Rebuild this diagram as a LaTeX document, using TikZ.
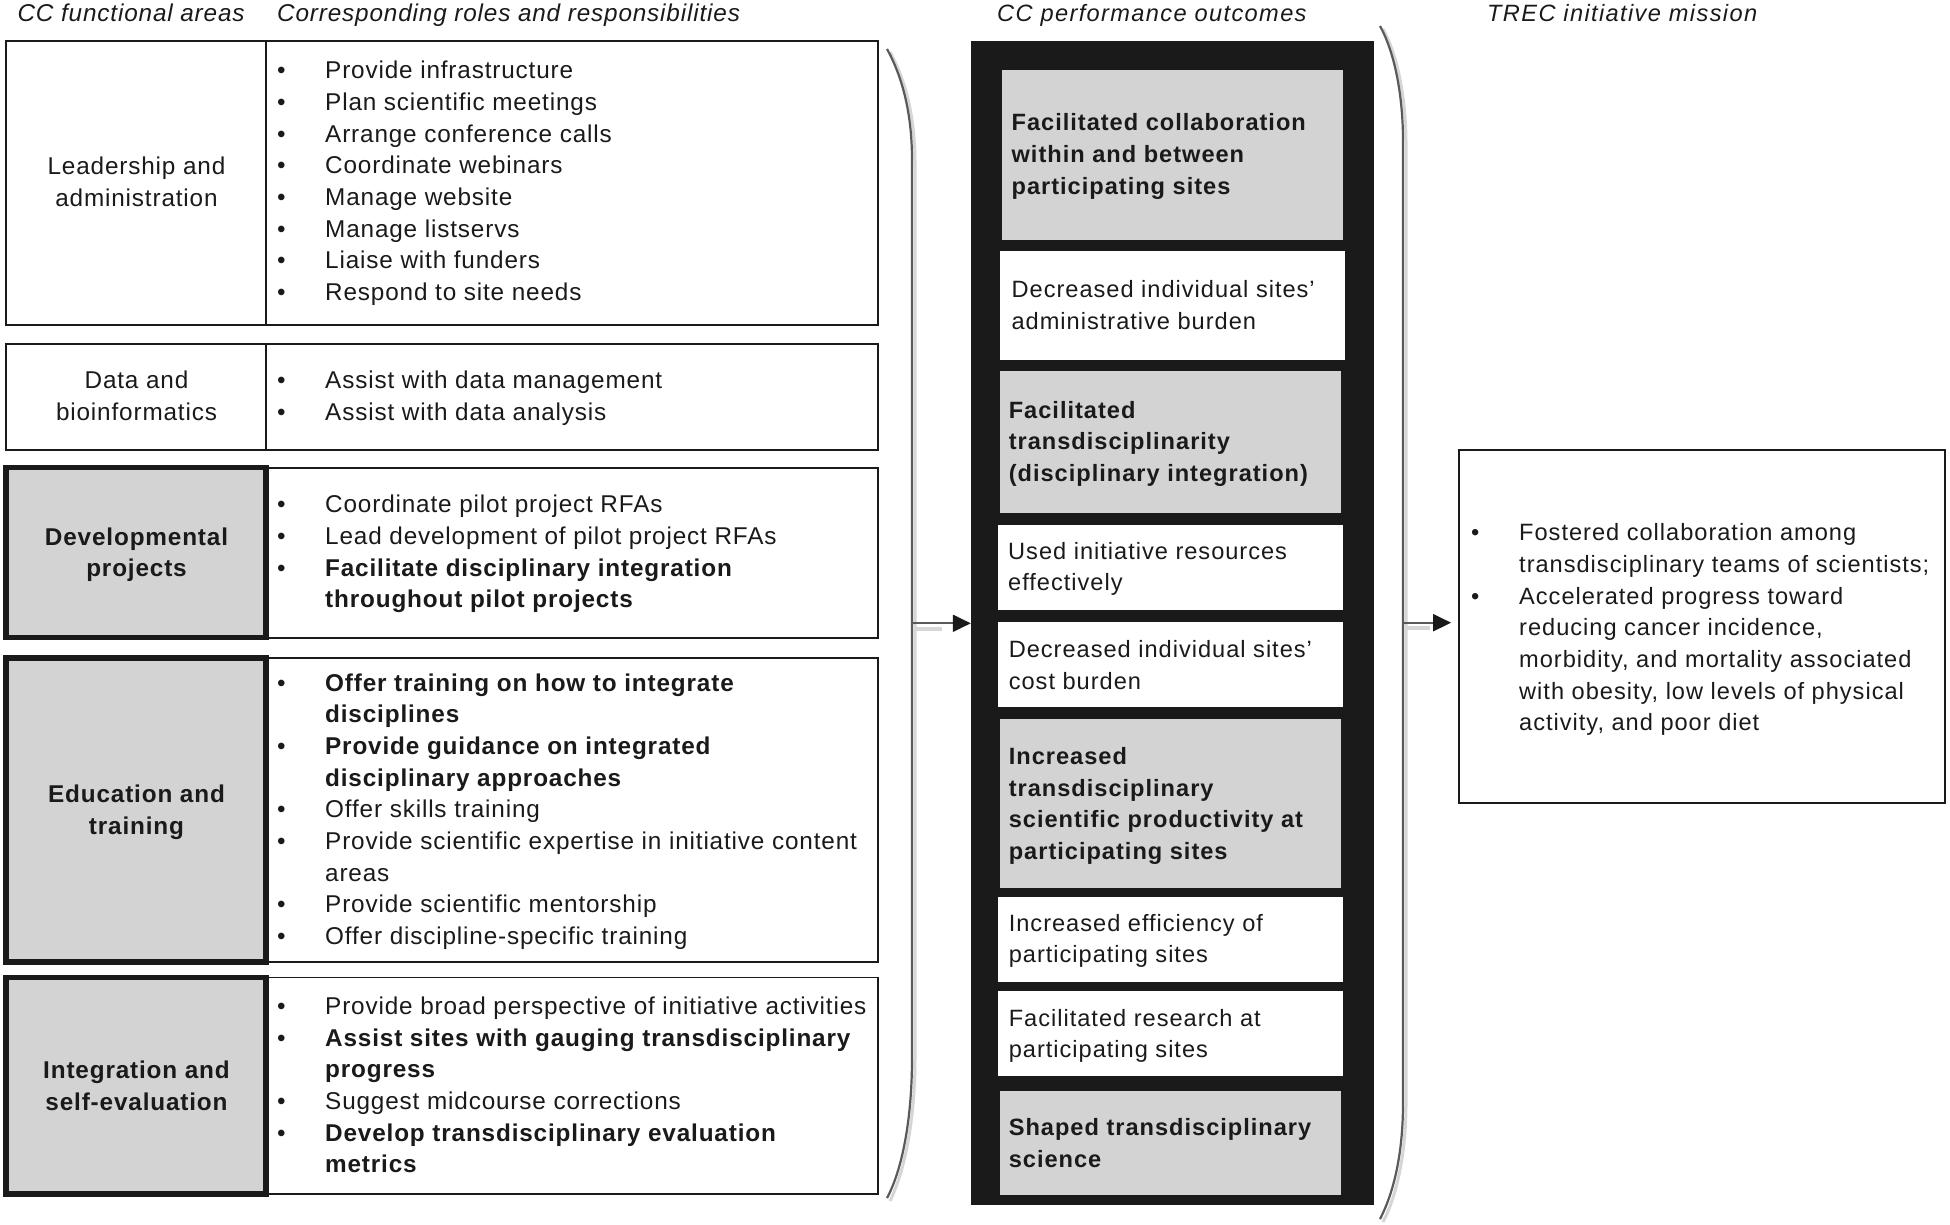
\documentclass[tikz,border=0pt]{standalone}
\usepackage{fontspec}
\setmainfont{Liberation Sans}
\newfontfamily\lfam{Liberation Sans}[LetterSpace=3.5]
\newfontfamily\mfam{Liberation Sans}[LetterSpace=4.2]
\newfontfamily\hfam{Liberation Sans}[LetterSpace=5.8]
\usetikzlibrary{arrows.meta}
\definecolor{cellgray}{HTML}{D3D3D3}
\definecolor{ink}{HTML}{1A1A1A}
\definecolor{brk}{HTML}{5A5A5A}
\definecolor{shd}{HTML}{D6D6D6}
\newcommand\bu{\makebox[48pt][l]{•}}
\newcommand\ind{\hspace*{48pt}}
\tikzset{
  ltext/.style={inner sep=0pt, anchor=north west, align=left, text=ink, font=\lfam\fontsize{24.3}{31.7}\selectfont},
  lbl/.style={inner sep=0pt, anchor=north, align=center, text=ink, font=\lfam\fontsize{24.3}{31.7}\selectfont},
  lblb/.style={lbl, font=\lfam\bfseries\fontsize{24.3}{31.7}\selectfont},
  mtext/.style={inner sep=0pt, anchor=north west, align=left, text=ink, font=\mfam\fontsize{23.6}{31.7}\selectfont},
  head/.style={inner sep=0pt, anchor=base west, text=ink, font=\lfam\itshape\fontsize{24.3}{31.7}\selectfont},
  mhead/.style={inner sep=0pt, anchor=base west, text=ink, font=\hfam\itshape\fontsize{23.6}{31.7}\selectfont},
  cellline/.style={draw=ink, line width=1.8pt},
  graycell/.style={draw=ink, fill=cellgray, line width=5.5pt},
  bracket/.style={draw=brk, line width=2.2pt},
  shadow/.style={draw=shd, line width=3pt},
  arr/.style={draw=brk, line width=2pt, -{Triangle[length=18pt,width=17pt,color=ink]}},
}
\begin{document}
\begin{tikzpicture}[x=1pt,y=-1pt]
\useasboundingbox[fill=white] (0,0) rectangle (1950,1224);

% headers
\node[head] (h1) at (17.4,21.5) {CC functional areas};
\node[head] (h2) at (277,21.5) {Corresponding roles and responsibilities};
\node[mhead] (h3) at (997,21.5) {CC performance outcomes};
\node[mhead] (h4) at (1487,21.5) {TREC initiative mission};

% ---------- left column rows ----------
% Leadership
\draw[cellline] (6,41) rectangle (878,325);
\draw[cellline] (266,41) -- (266,325);
\node[lbl] (leadL) at (136.5,152.3) {\strut Leadership and\\administration};
\node[ltext] (leadR) at (277,56.3) {\strut\bu Provide infrastructure\\
\bu Plan scientific meetings\\
\bu Arrange conference calls\\
\bu Coordinate webinars\\
\bu Manage website\\
\bu Manage listservs\\
\bu Liaise with funders\\
\bu Respond to site needs};

% Data
\draw[cellline] (6,344) rectangle (878,450);
\draw[cellline] (266,344) -- (266,450);
\node[lbl] (dataL) at (136.5,366.3) {\strut Data and\\bioinformatics};
\node[ltext] (dataR) at (277,366.3) {\strut\bu Assist with data management\\
\bu Assist with data analysis};

% Developmental
\draw[cellline] (266,467.7) rectangle (878,637.7);
\draw[graycell] (6,467.7) rectangle (266,637.7);
\node[lblb] (devL) at (136.5,522.8) {\strut Developmental\\projects};
\node[ltext] (devR) at (277,490.3) {\strut\bu Coordinate pilot project RFAs\\
\bu Lead development of pilot project RFAs\\
\bu \textbf{Facilitate disciplinary integration}\\
\ind\textbf{throughout pilot projects}};

% Education
\draw[cellline] (266,658) rectangle (878,962);
\draw[graycell] (6,658) rectangle (266,962);
\node[lblb] (eduL) at (136.5,780.3) {\strut Education and\\training};
\node[ltext] (eduR) at (277,668.6) {\strut\bu \textbf{Offer training on how to integrate}\\
\ind\textbf{disciplines}\\
\bu \textbf{Provide guidance on integrated}\\
\ind\textbf{disciplinary approaches}\\
\bu Offer skills training\\
\bu Provide scientific expertise in initiative content\\
\ind areas\\
\bu Provide scientific mentorship\\
\bu Offer discipline-specific training};

% Integration
\draw[cellline] (266,977.5) rectangle (878,1194);
\draw[graycell] (6,977.5) rectangle (266,1194);
\node[lblb] (intL) at (136.5,1056) {\strut Integration and\\self-evaluation};
\node[ltext] (intR) at (277,992) {\strut\bu Provide broad perspective of initiative activities\\
\bu \textbf{Assist sites with gauging transdisciplinary}\\
\ind\textbf{progress}\\
\bu Suggest midcourse corrections\\
\bu \textbf{Develop transdisciplinary evaluation}\\
\ind\textbf{metrics}};

% ---------- brackets ----------
\draw[shadow] (890,52) .. controls (906,81) and (915,118) .. (915,163) -- (915,1058) .. controls (915,1120) and (905,1170) .. (890,1201);
\draw[bracket] (887,49) .. controls (903,78) and (912,115) .. (912,160) -- (912,1058) .. controls (912,1120) and (902,1170) .. (887,1198);
\draw[shadow] (1383,29) .. controls (1399,58) and (1406,103) .. (1406,144) -- (1406,1103) .. controls (1406,1150) and (1398,1193) .. (1383,1222);
\draw[bracket] (1380,26) .. controls (1396,55) and (1403,100) .. (1403,141) -- (1403,1103) .. controls (1403,1150) and (1395,1190) .. (1380,1219);

% ---------- middle column ----------
\node[fill=ink, minimum width=402.5pt, minimum height=1164pt, inner sep=0pt] (outcomes) at (1172.25,623) {};
\fill[cellgray] (1002,70.4) rectangle (1343,239.5);
\fill[white] (999.6,251) rectangle (1345,359.7);
\fill[cellgray] (999.6,370.8) rectangle (1340.7,513);
\fill[white] (998,525) rectangle (1342.5,610);
\fill[white] (998,622) rectangle (1342.5,706.8);
\fill[cellgray] (999.6,718.7) rectangle (1340.7,888.4);
\fill[white] (998,896.8) rectangle (1342.5,981.7);
\fill[white] (998,991.2) rectangle (1342.5,1076);
\fill[cellgray] (999.6,1090.8) rectangle (1340.7,1194.8);

\node[mtext] (o1) at (1011.4,108.6) {\strut\textbf{Facilitated collaboration}\\\textbf{within and between}\\\textbf{participating sites}};
\node[mtext] (o2) at (1011.4,275) {\strut Decreased individual sites’\\administrative burden};
\node[mtext] (o3) at (1008.6,395.6) {\strut\textbf{Facilitated}\\\textbf{transdisciplinarity}\\\textbf{(disciplinary integration)}};
\node[mtext] (o4) at (1008,536.7) {\strut Used initiative resources\\effectively};
\node[mtext] (o5) at (1008.6,635.1) {\strut Decreased individual sites’\\cost burden};
\node[mtext] (o6) at (1008.6,741.9) {\strut\textbf{Increased}\\\textbf{transdisciplinary}\\\textbf{scientific productivity at}\\\textbf{participating sites}};
\node[mtext] (o7) at (1008.6,908.8) {\strut Increased efficiency of\\participating sites};
\node[mtext] (o8) at (1008.6,1003.6) {\strut Facilitated research at\\participating sites};
\node[mtext] (o9) at (1008.6,1113.2) {\strut\textbf{Shaped transdisciplinary}\\\textbf{science}};

% ---------- right column ----------
\node[draw=ink, line width=1.8pt, minimum width=486pt, minimum height=353pt, inner sep=0pt] (mission) at (1702,626.5) {};
\node[mtext] (mtxt) at (1471,518.3) {\strut\bu Fostered collaboration among\\
\ind transdisciplinary teams of scientists;\\
\bu Accelerated progress toward\\
\ind reducing cancer incidence,\\
\ind morbidity, and mortality associated\\
\ind with obesity, low levels of physical\\
\ind activity, and poor diet};

% ---------- arrows ----------
\coordinate (lmid) at (912,623.3);
\coordinate (rmid) at (1403,622.7);
\draw[shd, line width=4pt] (914,629) -- (942,629);
\draw[shd, line width=4pt] (1405,628) -- (1430,628);
\draw[arr] (lmid) -- (outcomes.west |- lmid);
\draw[arr] (rmid) -- ([xshift=-7pt]mission.west |- rmid);
\end{tikzpicture}
\end{document}
